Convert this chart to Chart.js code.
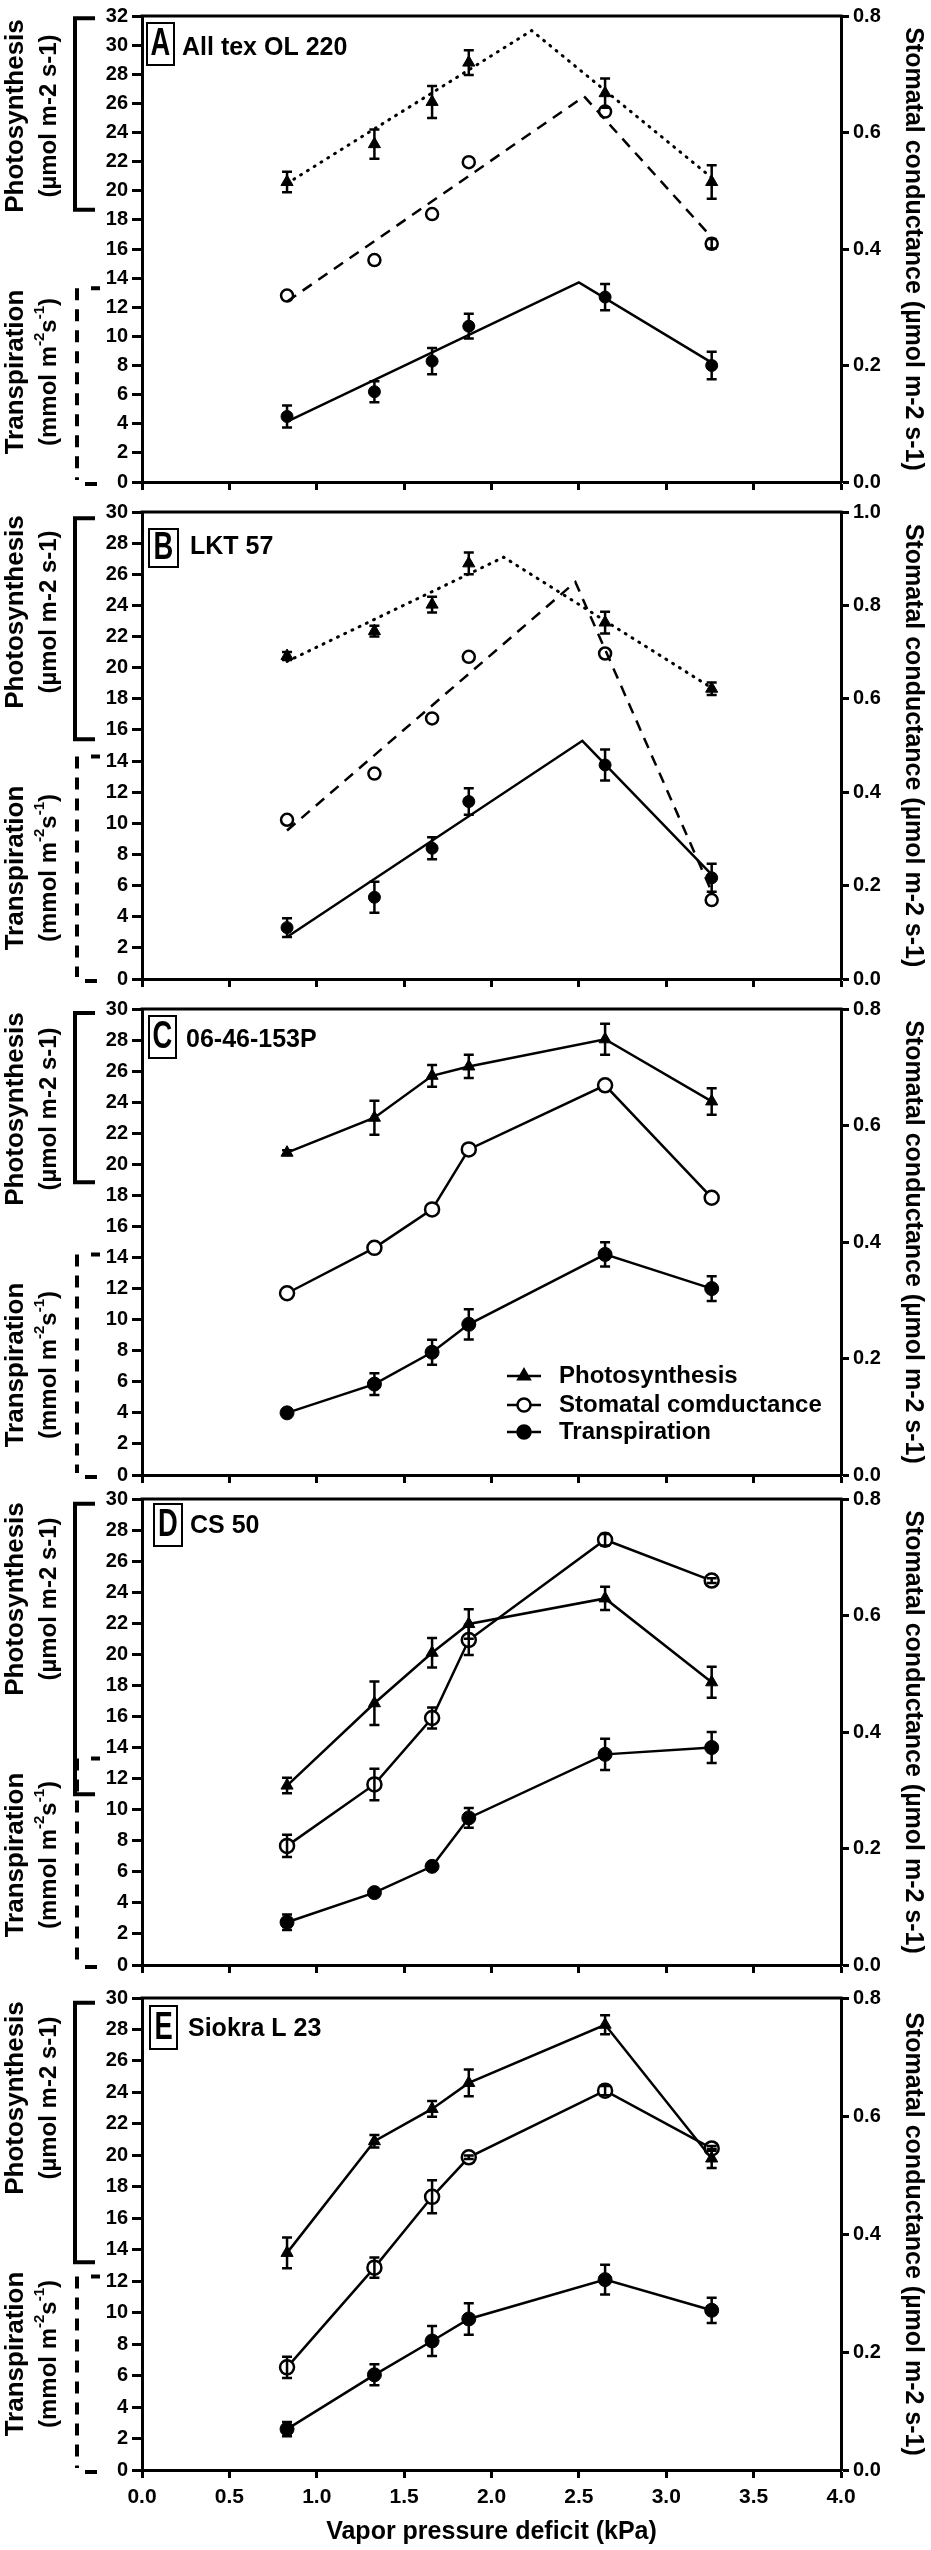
<!DOCTYPE html>
<html>
<head>
<meta charset="utf-8">
<script src="https://cdn.jsdelivr.net/npm/chart.js@4.4.1/dist/chart.umd.min.js"></script>
<style>
html, body { margin: 0; padding: 0; background: #fff; }
#page { position: relative; width: 931px; height: 2550px; }
#page canvas { position: absolute; left: 0; }
</style>
</head>
<body>
<div id="page"></div>
<script>
// x values (vapor pressure deficit, kPa)
const vpd = [0.83, 1.33, 1.66, 1.87, 2.65, 3.26];

const letters = ['A', 'B', 'C', 'D', 'E'];
const cultivars = ['All tex OL 220', 'LKT 57', '06-46-153P', 'CS 50', 'Siokra L 23'];
const leftMax = [32, 30, 30, 30, 30];
const rightMax = [0.8, 1.0, 0.8, 0.8, 0.8];

// photosynthesis (left axis) and its error
const photo = [
  [20.6, 23.2, 26.1, 28.8, 26.7, 20.6],
  [20.75, 22.35, 24.05, 26.7, 22.9, 18.65],
  [20.75, 23.0, 25.7, 26.3, 28.05, 24.05],
  [11.55, 16.85, 20.1, 21.95, 23.6, 18.2],
  [13.8, 20.9, 22.95, 24.6, 28.3, 19.8]
];
const photoErr = [
  [0.7, 1.0, 1.1, 0.85, 1.0, 1.15],
  [0.25, 0.35, 0.5, 0.7, 0.7, 0.4],
  [0.15, 1.1, 0.7, 0.75, 1.0, 0.85],
  [0.5, 1.4, 0.95, 0.95, 0.75, 1.0],
  [0.98, 0.4, 0.5, 0.85, 0.6, 0.6]
];
// stomatal conductance (right axis)
const cond = [
  [0.32, 0.381, 0.46, 0.549, 0.636, 0.409],
  [0.341, 0.44, 0.558, 0.69, 0.697, 0.169],
  [0.312, 0.39, 0.456, 0.559, 0.669, 0.476],
  [0.2045, 0.31, 0.424, 0.558, 0.73, 0.66],
  [0.174, 0.343, 0.463, 0.53, 0.643, 0.545]
];
const condErr = [
  [0, 0, 0, 0, 0, 0.008],
  [0, 0, 0, 0, 0, 0],
  [0, 0, 0, 0, 0, 0],
  [0.019, 0.027, 0.018, 0.026, 0.01, 0.004],
  [0.018, 0.017, 0.028, 0.003, 0.008, 0.004]
];
// transpiration (left axis)
const trans = [
  [4.5, 6.2, 8.3, 10.7, 12.7, 8.0],
  [3.3, 5.25, 8.4, 11.4, 13.75, 6.5],
  [4.0, 5.85, 7.9, 9.7, 14.2, 12.0],
  [2.75, 4.66, 6.35, 9.47, 13.56, 14.0],
  [2.6, 6.05, 8.2, 9.6, 12.1, 10.15]
];
const transErr = [
  [0.75, 0.72, 0.9, 0.85, 0.9, 0.95],
  [0.6, 1.0, 0.7, 0.85, 1.0, 0.9],
  [0.15, 0.7, 0.8, 0.97, 0.78, 0.8],
  [0.5, 0.2, 0.2, 0.64, 1.0, 1.0],
  [0.45, 0.67, 0.95, 1.0, 0.95, 0.8]
];

// segmented fits for panels A and B: start, break point, end
const fitPhotoX = [[0.83, 2.23, 3.26], [0.83, 2.07, 3.26]];
const fitPhotoY = [[20.5, 31.0, 20.9], [20.4, 27.1, 18.7]];
const fitCondX = [[0.83, 2.53, 3.26], [0.83, 2.48, 3.26]];
const fitCondY = [[0.31, 0.662, 0.42], [0.318, 0.85, 0.187]];
const fitTransX = [[0.83, 2.50, 3.26], [0.83, 2.52, 3.26]];
const fitTransY = [[4.14, 13.7, 8.2], [2.7, 15.3, 6.7]];

// bracket spans on the left axis (axis units)
const photoBracket = [[18.7, 31.85], [15.4, 29.6], [18.85, 29.75], [11.0, 29.7], [13.2, 29.7]];
const transBracketTop = [13.3, 14.3, 14.2, 13.3, 12.3];

// page placement of each panel's plot area
const frames = [
  { top: 13, bottom: 485, box: [147, 7, 27, 42], label: [182, 32] },
  { top: 509, bottom: 982, box: [149, 17, 29, 38], label: [190, 35] },
  { top: 1006, bottom: 1478, box: [149, 7, 27, 42], label: [186, 31] },
  { top: 1496, bottom: 1968, box: [154, 5, 28, 42], label: [190, 27] },
  { top: 1995, bottom: 2470, box: [150, 8, 27, 43], label: [188, 31] }
];

const FONT = '"Liberation Sans", Arial, Helvetica, sans-serif';
const PAD_TOP = 13;

function pts(xs, ys) { return xs.map((x, i) => ({ x: x, y: ys[i] })); }

function rotText(ctx, parts, cx, cy) {
  ctx.save();
  ctx.translate(cx, cy);
  ctx.rotate(-Math.PI / 2);
  ctx.textBaseline = 'middle';
  ctx.textAlign = 'left';
  let w = 0;
  parts.forEach(p => { ctx.font = p.font; w += ctx.measureText(p.t).width; });
  let x = -w / 2;
  parts.forEach(p => {
    ctx.font = p.font;
    ctx.fillText(p.t, x, p.dy || 0);
    x += ctx.measureText(p.t).width;
  });
  ctx.restore();
}

function marker(ctx, style, x, y, r, fill) {
  ctx.beginPath();
  if (style === 'triangle') {
    const h = r * 1.5, e = h * 2 / Math.sqrt(3);
    ctx.moveTo(x, y - h * 2 / 3);
    ctx.lineTo(x + e / 2, y + h / 3);
    ctx.lineTo(x - e / 2, y + h / 3);
    ctx.closePath();
  } else {
    ctx.arc(x, y, r, 0, Math.PI * 2);
  }
  ctx.fillStyle = fill;
  ctx.fill();
  ctx.stroke();
}

const decor = {
  id: 'decor',
  afterDatasetsDraw(chart) {
    const ctx = chart.ctx;
    ctx.save();
    ctx.strokeStyle = '#000';
    ctx.lineWidth = 2.5;
    chart.data.datasets.forEach((ds, di) => {
      if (!ds.errors) return;
      const meta = chart.getDatasetMeta(di);
      const sc = chart.scales[ds.yAxisID];
      ds.data.forEach((d, i) => {
        const e = ds.errors[i];
        if (!e) return;
        const x = meta.data[i].x;
        const y1 = sc.getPixelForValue(d.y + e), y2 = sc.getPixelForValue(d.y - e);
        ctx.beginPath();
        ctx.moveTo(x, y1); ctx.lineTo(x, y2);
        ctx.moveTo(x - 5, y1); ctx.lineTo(x + 5, y1);
        ctx.moveTo(x - 5, y2); ctx.lineTo(x + 5, y2);
        ctx.stroke();
      });
    });
    ctx.restore();
  },
  afterDraw(chart) {
    const o = chart.options.plugins.decor;
    const ctx = chart.ctx, a = chart.chartArea, ys = chart.scales.y;
    ctx.save();
    ctx.strokeStyle = '#000';
    ctx.fillStyle = '#000';

    // top frame line
    ctx.lineWidth = 3;
    ctx.beginPath();
    ctx.moveTo(a.left - 1.5, a.top); ctx.lineTo(a.right + 1.5, a.top);
    ctx.stroke();

    // panel letter box and cultivar name
    const b = o.frame.box;
    ctx.lineWidth = 2;
    ctx.strokeRect(b[0], a.top + b[1], b[2], b[3]);
    ctx.save();
    ctx.translate(b[0] + b[2] / 2, a.top + b[1] + b[3] / 2 + 1);
    ctx.scale(0.72, 1);
    ctx.font = 'bold 38px ' + FONT;
    ctx.textAlign = 'center';
    ctx.textBaseline = 'middle';
    ctx.fillText(o.letter, 0, 0);
    ctx.restore();
    ctx.font = 'bold 25px ' + FONT;
    ctx.textAlign = 'left';
    ctx.textBaseline = 'middle';
    ctx.fillText(o.name, o.frame.label[0], a.top + o.frame.label[1]);

    // photosynthesis bracket (solid)
    const pb = o.photoBracket;
    const pT = ys.getPixelForValue(pb[1]), pB = ys.getPixelForValue(pb[0]);
    ctx.lineWidth = 4;
    ctx.beginPath();
    ctx.moveTo(95, pT); ctx.lineTo(75, pT); ctx.lineTo(75, pB); ctx.lineTo(95, pB);
    ctx.stroke();

    // transpiration bracket (dashed)
    const tT = ys.getPixelForValue(o.transTop), tB = ys.getPixelForValue(0);
    ctx.setLineDash([12, 9]);
    ctx.beginPath();
    ctx.moveTo(77, tT); ctx.lineTo(77, tB - 2);
    ctx.stroke();
    ctx.setLineDash([]);
    ctx.beginPath();
    ctx.moveTo(91, tT); ctx.lineTo(100, tT);
    ctx.moveTo(85, tB + 2); ctx.lineTo(97, tB + 2);
    ctx.stroke();

    // left axis titles
    const f1 = 'bold 26px ' + FONT, f2 = 'bold 24px ' + FONT, fs = 'bold 15px ' + FONT;
    rotText(ctx, [{ t: 'Photosynthesis', font: f1 }], 16, a.top + 100);
    rotText(ctx, [{ t: '(\u00b5mol m-2 s-1)', font: f2 }], 49, a.top + 100);
    rotText(ctx, [{ t: 'Transpiration', font: f1 }], 16, a.top + 356);
    rotText(ctx, [
      { t: '(mmol m', font: f2 },
      { t: '-2', font: fs, dy: -9 },
      { t: 's', font: f2 },
      { t: '-1', font: fs, dy: -9 },
      { t: ')', font: f2 }
    ], 49, a.top + 356);

    // legend (panel C)
    if (o.legend) {
      const rows = [
        { t: 'Photosynthesis', s: 'triangle', fill: '#000' },
        { t: 'Stomatal comductance', s: 'circle', fill: '#fff' },
        { t: 'Transpiration', s: 'circle', fill: '#000' }
      ];
      const dyRows = [367, 396, 423];
      rows.forEach((r, i) => {
        const y = a.top + dyRows[i];
        ctx.lineWidth = 2.5;
        ctx.beginPath(); ctx.moveTo(507, y); ctx.lineTo(541, y); ctx.stroke();
        marker(ctx, r.s, 524, y, 6.5, r.fill);
        ctx.fillStyle = '#000';
        ctx.font = 'bold 24px ' + FONT;
        ctx.textAlign = 'left';
        ctx.textBaseline = 'middle';
        ctx.fillText(r.t, 559, y);
      });
    }
    ctx.restore();
  }
};

function buildPanel(k) {
  const fr = frames[k];
  const isLast = k === 4;
  const fitted = k < 2;
  const plotH = fr.bottom - fr.top;
  const xH = isLast ? 2550 - fr.bottom : 13;
  const h = PAD_TOP + plotH + xH;

  const canvas = document.createElement('canvas');
  canvas.width = 931;
  canvas.height = h;
  canvas.style.top = (fr.top - PAD_TOP) + 'px';
  canvas.style.width = '931px';
  canvas.style.height = h + 'px';
  document.getElementById('page').appendChild(canvas);

  const r = fitted ? 6 : 7;
  const datasets = [
    {
      label: 'Photosynthesis', yAxisID: 'y', data: pts(vpd, photo[k]), errors: photoErr[k],
      showLine: !fitted, borderColor: '#000', borderWidth: 2.5, pointStyle: 'triangle',
      pointRadius: 7, pointBackgroundColor: '#000', pointBorderColor: '#000', pointBorderWidth: 1
    },
    {
      label: 'Stomatal comductance', yAxisID: 'y1', data: pts(vpd, cond[k]), errors: condErr[k],
      showLine: !fitted, borderColor: '#000', borderWidth: 2.5, pointStyle: 'circle',
      pointRadius: r, pointBackgroundColor: '#fff', pointBorderColor: '#000', pointBorderWidth: 2.5
    },
    {
      label: 'Transpiration', yAxisID: 'y', data: pts(vpd, trans[k]), errors: transErr[k],
      showLine: !fitted, borderColor: '#000', borderWidth: 2.5, pointStyle: 'circle',
      pointRadius: r, pointBackgroundColor: '#000', pointBorderColor: '#000', pointBorderWidth: 1
    }
  ];
  if (fitted) {
    datasets.unshift(
      { label: 'fit-photo', yAxisID: 'y', data: pts(fitPhotoX[k], fitPhotoY[k]), showLine: true,
        borderColor: '#000', borderWidth: 3, borderDash: [1, 7], borderCapStyle: 'round', pointRadius: 0 },
      { label: 'fit-cond', yAxisID: 'y1', data: pts(fitCondX[k], fitCondY[k]), showLine: true,
        borderColor: '#000', borderWidth: 2.5, borderDash: [11, 8], pointRadius: 0 },
      { label: 'fit-trans', yAxisID: 'y', data: pts(fitTransX[k], fitTransY[k]), showLine: true,
        borderColor: '#000', borderWidth: 2.5, pointRadius: 0 }
    );
  }

  const tickFont = { family: FONT, size: 20, weight: 'bold' };
  const titleFont = { family: FONT, size: 25, weight: 'bold' };

  new Chart(canvas.getContext('2d'), {
    type: 'scatter',
    data: { datasets: datasets },
    options: {
      responsive: false,
      animation: false,
      devicePixelRatio: 1,
      events: [],
      layout: { padding: { top: PAD_TOP, left: 0, right: 0, bottom: 0 } },
      plugins: {
        legend: { display: false },
        tooltip: { enabled: false },
        decor: {
          frame: fr, letter: letters[k], name: cultivars[k],
          photoBracket: photoBracket[k], transTop: transBracketTop[k], legend: k === 2
        }
      },
      scales: {
        x: {
          type: 'linear', position: 'bottom', min: 0, max: 4,
          afterFit: s => { s.height = xH; },
          ticks: {
            display: isLast, stepSize: 0.5, color: '#000', font: { family: FONT, size: 21, weight: 'bold' },
            padding: 7, maxRotation: 0, callback: v => v.toFixed(1)
          },
          grid: { drawOnChartArea: false, drawTicks: true, tickLength: 8, tickWidth: 3, tickColor: '#000' },
          border: { display: true, width: 3, color: '#000' },
          title: {
            display: isLast, text: 'Vapor pressure deficit (kPa)', color: '#000', font: titleFont,
            padding: { top: 0, bottom: 3 }
          }
        },
        y: {
          type: 'linear', position: 'left', min: 0, max: leftMax[k],
          afterFit: s => { s.width = 142; },
          ticks: { stepSize: 2, color: '#000', font: tickFont, padding: 4 },
          grid: { drawOnChartArea: false, drawTicks: true, tickLength: 10, tickWidth: 3, tickColor: '#000' },
          border: { display: true, width: 3, color: '#000' }
        },
        y1: {
          type: 'linear', position: 'right', min: 0, max: rightMax[k],
          afterFit: s => { s.width = 90; },
          ticks: { stepSize: 0.2, color: '#000', font: tickFont, padding: 4, callback: v => v.toFixed(1) },
          grid: { drawOnChartArea: false, drawTicks: true, tickLength: 8, tickWidth: 3, tickColor: '#000' },
          border: { display: true, width: 3, color: '#000' },
          title: {
            display: true, text: 'Stomatal conductance (\u00b5mol m-2 s-1)', color: '#000', font: titleFont,
            padding: { top: 3, bottom: 0 }
          }
        }
      }
    },
    plugins: [decor]
  });
}

for (let k = 0; k < 5; k++) buildPanel(k);
</script>
</body>
</html>
